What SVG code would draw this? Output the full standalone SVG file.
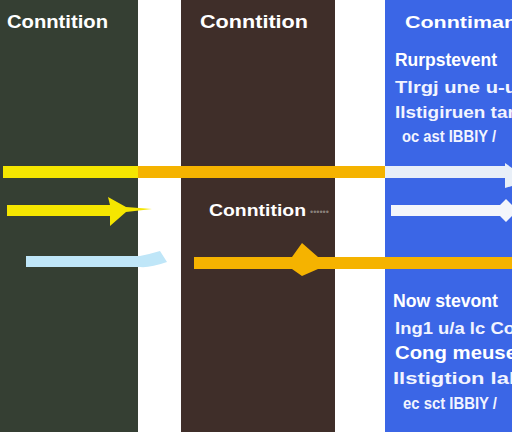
<svg xmlns="http://www.w3.org/2000/svg" width="512" height="432" viewBox="0 0 512 432">
<style>
.t{font-family:"Liberation Sans",Arial,sans-serif;font-weight:bold;fill:#ffffff}
.h{font-size:18px}
.b{font-size:17px;fill:#f2f4ff}
</style>
<rect width="512" height="432" fill="#ffffff"/>
<g id="col1"><rect x="0" y="0" width="138" height="432" fill="#353f33"/>
<text class="t h" x="7" y="28" textLength="101" lengthAdjust="spacingAndGlyphs">Conntition</text></g>
<g id="col2"><rect x="181" y="0" width="154" height="432" fill="#3f2e29"/>
<text class="t h" x="200" y="28" textLength="108" lengthAdjust="spacingAndGlyphs">Conntition</text>
<text class="t" font-size="17" x="209" y="216" textLength="97" lengthAdjust="spacingAndGlyphs">Conntition</text>
<text x="310" y="215" font-family="Liberation Sans,sans-serif" font-size="9" fill="#8a807a">••••••</text></g>
<g id="col3"><rect x="385" y="0" width="127" height="432" fill="#3b66e6"/>
<text class="t" font-size="17" x="405" y="28" textLength="112" lengthAdjust="spacingAndGlyphs">Conntiman</text>
<text class="t h" x="395" y="66" textLength="102" lengthAdjust="spacingAndGlyphs">Rurpstevent</text>
<text class="t b" x="395" y="93" textLength="122" lengthAdjust="spacingAndGlyphs">Tlrgj une u-u</text>
<text class="t b" x="395" y="118" textLength="124" lengthAdjust="spacingAndGlyphs">Ilstigiruen tan</text>
<text class="t b" x="402" y="142" textLength="94" lengthAdjust="spacingAndGlyphs">oc ast IBBIY /</text>
<text class="t h" x="393" y="307" textLength="105" lengthAdjust="spacingAndGlyphs">Now stevont</text>
<text class="t b" x="395" y="334" textLength="120" lengthAdjust="spacingAndGlyphs">Ing1 u/a lc Co</text>
<text class="t h" x="395" y="359" textLength="122" lengthAdjust="spacingAndGlyphs">Cong meuse</text>
<text class="t b" x="393" y="384" textLength="122" lengthAdjust="spacingAndGlyphs">Ilstigtion lal</text>
<text class="t b" x="403" y="409" textLength="94" lengthAdjust="spacingAndGlyphs">ec sct IBBIY /</text></g>
<g id="connectors">
<rect x="3" y="166" width="135" height="12" fill="#f5e600"/>
<rect x="138" y="166" width="247" height="12" fill="#f5b300"/>
<rect x="385" y="166" width="122" height="12" fill="#e8eff8"/>
<path d="M505 163 L512 168 L512 186 L505 188 Z" fill="#e8eff8"/>
<path d="M7 205 H110 L108 197 L126 207 L152 209 L126 212 L110 226 L110 216 H7 Z" fill="#f5e600"/>
<path d="M26 256 H140 Q150 254 160 251 L167 262 Q150 268 140 267 H26 Z" fill="#bfe6f8"/>
<path d="M194 257 H292 L302 243 L318 257 H512 V269 H318 L302 276 L292 269 H194 Z" fill="#f5b300"/>
<path d="M391 205 H500 L506 199 L512 205 V216 L506 222 L500 216 H391 Z" fill="#f4f6fb"/>
</g>
</svg>
